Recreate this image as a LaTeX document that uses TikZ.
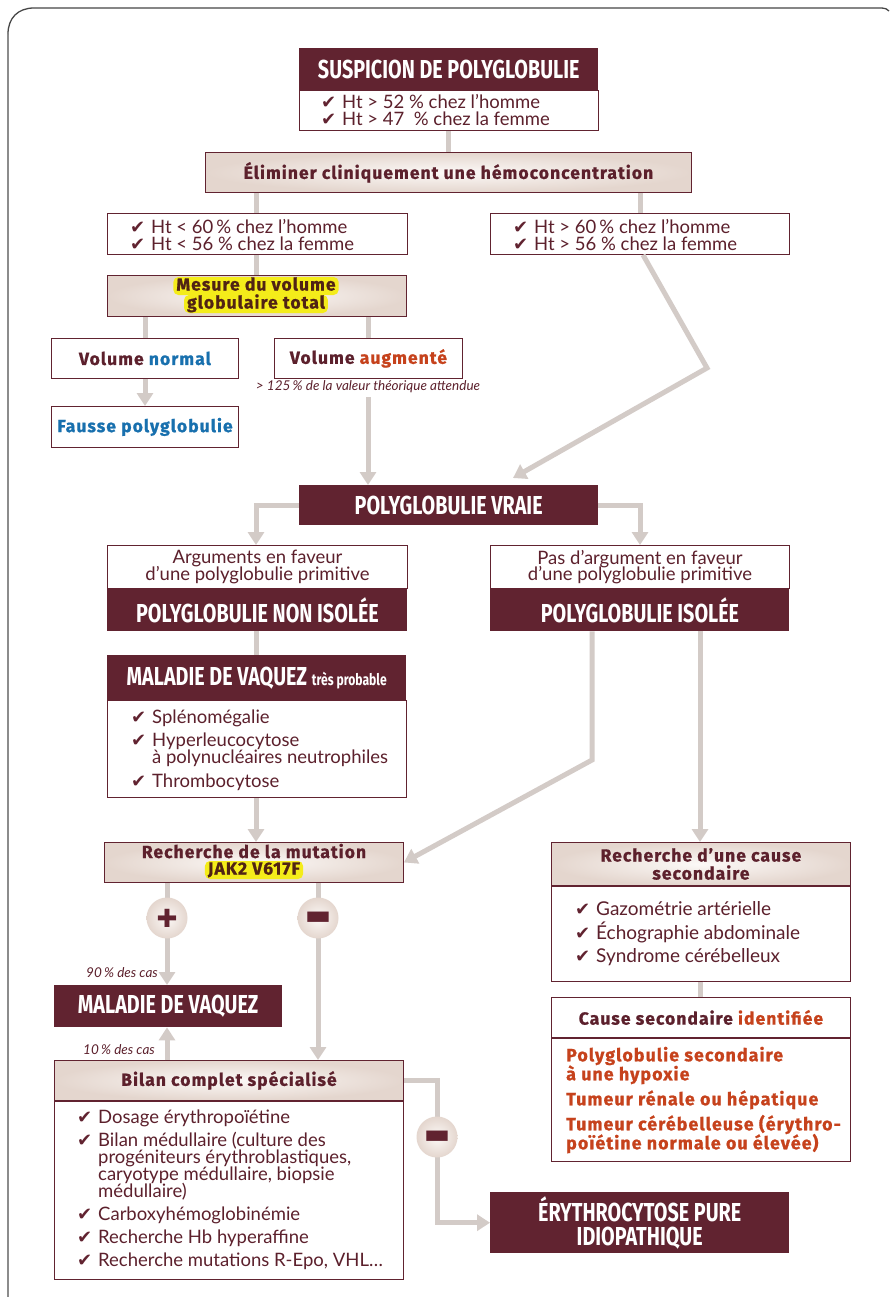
\documentclass[tikz,border=0pt]{standalone}
\usepackage{fontspec}
\setmainfont{Lato}
\newfontfamily\heavyf[LetterSpace=6,FakeBold=1]{Fira Sans}
\newfontfamily\condf[FakeStretch=0.76]{Fira Sans}
\newfontfamily\symf{DejaVu Sans}
\usetikzlibrary{arrows.meta,calc}
\definecolor{maroon}{RGB}{97,35,48}
\definecolor{txt}{RGB}{92,32,44}
\definecolor{hltxt}{RGB}{80,35,20}
\definecolor{conncol}{RGB}{211,203,199}
\definecolor{beige}{RGB}{228,214,206}
\definecolor{lightbg}{RGB}{252,249,247}
\definecolor{myblue}{RGB}{24,112,174}
\definecolor{myorange}{RGB}{198,66,28}
\definecolor{hl}{RGB}{244,236,26}
\definecolor{framec}{RGB}{70,70,70}
\definecolor{framel}{RGB}{140,140,140}
\lineskiplimit=-50pt
\newcommand\ck{\makebox[21pt][l]{\symf\fontsize{18}{15}\selectfont\color{maroon}✔}}
\newcommand\ind{\hspace*{21pt}}
\tikzset{
  darkbox/.style={fill=maroon, text=white, inner sep=0pt, align=center,
     font=\condf\bfseries\fontsize{26}{26}\selectfont},
  whitebox/.style={draw=maroon, line width=0.9pt, fill=white, inner sep=0pt, align=center, text=txt},
  shadebox/.style={draw=maroon, line width=0.9pt, inner color=lightbg, outer color=beige, inner sep=0pt, align=center, text=txt},
  heavy/.style={font=\heavyf\bfseries\fontsize{17.5}{18}\selectfont},
  body/.style={font=\fontsize{18.5}{16.5}\selectfont},
  listtxt/.style={align=left, anchor=west, inner sep=0pt, text=txt, font=\fontsize{18.5}{17}\selectfont},
  htlist/.style={listtxt, font=\fontsize{18.5}{17}\selectfont},
  ital/.style={inner sep=0pt, text=txt, font=\itshape\fontsize{13.5}{14}\selectfont},
  hlnode/.style={fill=hl, rounded corners=5pt, inner xsep=3pt, inner ysep=1pt, text height=12.5pt, text depth=3.5pt, text=hltxt, font=\heavyf\bfseries\fontsize{17.5}{18}\selectfont},
  conn/.style={draw=conncol, line width=5pt},
  arr/.style={conn, -{Triangle[length=13pt,width=16pt]}},
  circ/.style={circle, minimum size=41pt, inner sep=0pt, inner color=lightbg, outer color=beige, text=maroon},
}
\begin{document}
\begin{tikzpicture}[x=1pt,y=-1pt]
\useasboundingbox (0,0) rectangle (889,1297);
\fill[white] (0,0) rectangle (889,1297);
\draw[draw=framel, line width=1.3pt] (8,1297) -- (8,34);
\draw[draw=framec, line width=1.3pt] (8,34) .. controls (8,18) and (18,8) .. (34,8) -- (882,8) .. controls (885,8) and (887,9) .. (889,11);
% columns
\coordinate (cL) at (256,0);
\coordinate (cR) at (640,0);
\coordinate (cQ) at (643,0);
\coordinate (cN) at (145,0);
\coordinate (cU) at (368,0);
\coordinate (cP) at (167,0);
\coordinate (cM) at (318,0);
\coordinate (cS) at (592,0);
\coordinate (cT) at (700,0);
\coordinate (cE) at (437,0);
% nodes
\node[darkbox, anchor=north west, minimum width=299pt, minimum height=42pt] (susp) at (299,48) {SUSPICION DE POLYGLOBULIE};
\node[whitebox, anchor=north, minimum width=299pt, minimum height=40pt] (suspb) at (susp.south) {};
\node[htlist] (suspt) at (321,110) {\ck Ht > 52 \% chez l’homme\\\ck Ht > 47~~\% chez la femme};
\node[shadebox, heavy, anchor=north west, minimum width=486pt, minimum height=40pt] (elim) at (205,152) {Éliminer cliniquement une hémoconcentration};
\node[whitebox, anchor=north west, minimum width=300pt, minimum height=41pt] (lt) at (107,213) {};
\node[htlist] (ltt) at (130,235) {\ck Ht < 60\,\% chez l’homme\\\ck Ht < 56 \% chez la femme};
\node[whitebox, anchor=north west, minimum width=299pt, minimum height=41pt] (rt) at (490,213) {};
\node[htlist] (rtt) at (513,235) {\ck Ht > 60\,\% chez l’homme\\\ck Ht > 56 \% chez la femme};
\node[shadebox, anchor=north west, minimum width=299pt, minimum height=41pt] (mes) at (107,275) {};
\node[hlnode] (mes1) at (256,286) {Mesure du volume};
\node[hlnode] (mes2) at (256,304) {globulaire total};
\node[whitebox, heavy, anchor=north west, minimum width=187pt, minimum height=40pt] (vn) at (51,338) {Volume \textcolor{myblue}{normal}};
\node[whitebox, heavy, anchor=north west, minimum width=188pt, minimum height=40pt] (va) at (274,338) {Volume \textcolor{myorange}{augmenté}};
\node[ital] (note) at (368,387) {> 125\,\% de la valeur théorique attendue};
\node[whitebox, heavy, text=myblue, anchor=north west, minimum width=187pt, minimum height=41pt] (fp) at (51,406) {Fausse polyglobulie};
\node[darkbox, anchor=north west, minimum width=299pt, minimum height=40pt] (vraie) at (299,485) {POLYGLOBULIE VRAIE};
\node[whitebox, body, anchor=north west, minimum width=300pt, minimum height=43pt] (argl) at (107,545) {Arguments en faveur\\d’une polyglobulie primitive};
\node[darkbox, anchor=north, minimum width=300pt, minimum height=42pt] (nonis) at (argl.south) {POLYGLOBULIE NON ISOLÉE};
\node[whitebox, body, anchor=north west, minimum width=299pt, minimum height=43pt] (argr) at (490,545) {Pas d’argument en faveur\\d’une polyglobulie primitive};
\node[darkbox, anchor=north, minimum width=299pt, minimum height=42pt] (isol) at (argr.south) {POLYGLOBULIE ISOLÉE};
\node[darkbox, anchor=north west, minimum width=299pt, minimum height=45pt] (mal1) at (107,655) {MALADIE DE VAQUEZ {\fontsize{16}{16}\selectfont très probable}};
\node[whitebox, anchor=north, minimum width=299pt, minimum height=97pt] (mal1b) at (mal1.south) {};
\node[listtxt] (mal1t) at (131,750) {\ck Splénomégalie\\[6.5pt]\ck Hyperleucocytose\\\ind à polynucléaires neutrophiles\\[6.5pt]\ck Thrombocytose};
\node[shadebox, anchor=north west, minimum width=299pt, minimum height=40pt] (mut) at (104,842) {};
\node[inner sep=0pt, heavy, text=txt, text height=12.5pt, text depth=0.5pt] (mutt) at (254,852) {Recherche de la mutation};
\node[hlnode] (jak) at (254,870) {JAK2 V617F};
\node[darkbox, anchor=north west, minimum width=228pt, minimum height=42pt] (mv) at (54,985) {MALADIE DE VAQUEZ};
\node[ital, anchor=east] (p90) at (158,973) {90\,\% des cas};
\node[ital, anchor=east] (p10) at (155,1050) {10\,\% des cas};
\node[shadebox, heavy, anchor=north west, minimum width=349pt, minimum height=40pt] (bil) at (54,1060) {Bilan complet spécialisé};
\node[whitebox, anchor=north, minimum width=349pt, minimum height=178pt] (bilb) at (bil.south) {};
\node[listtxt] (bilt) at (77,1190) {\ck Dosage érythropoïétine\\[6pt]\ck Bilan médullaire (culture des\\\ind progéniteurs érythroblastiques,\\\ind caryotype médullaire, biopsie\\\ind médullaire)\\[6pt]\ck Carboxyhémoglobinémie\\[6pt]\ck Recherche Hb hyperaffine\\[6pt]\ck Recherche mutations R-Epo, VHL…};
\node[shadebox, heavy, anchor=north west, minimum width=299pt, minimum height=43pt] (rc) at (551,842) {Recherche d’une cause\\secondaire};
\node[whitebox, anchor=north, minimum width=299pt, minimum height=95pt] (rcb) at (rc.south) {};
\node[listtxt, font=\fontsize{19}{23.5}\selectfont] (rct) at (575,934) {\ck Gazométrie artérielle\\\ck Échographie abdominale\\\ck Syndrome cérébelleux};
\node[whitebox, heavy, anchor=north west, minimum width=299pt, minimum height=40pt] (ci) at (551,997) {Cause secondaire \textcolor{myorange}{identifiée}};
\node[whitebox, anchor=north, minimum width=299pt, minimum height=123pt] (cib) at (ci.south) {};
\node[listtxt, text=myorange, font=\heavyf\bfseries\fontsize{17.8}{19}\selectfont] (cit) at (566,1100) {Polyglobulie secondaire\\à une hypoxie\\[6pt]Tumeur rénale ou hépatique\\[6pt]Tumeur cérébelleuse (érythro-\\poïétine normale ou élevée)};
\node[darkbox, anchor=north west, minimum width=299pt, minimum height=61pt, font=\condf\bfseries\fontsize{26}{24}\selectfont] (ery) at (490,1192) {ÉRYTHROCYTOSE PURE\\IDIOPATHIQUE};
% connectors
\draw[conn] (suspb.south) -- (suspb.south |- elim.north);
\draw[conn] (elim.south -| cL) -- (lt.north -| cL);
\draw[conn] (elim.south -| cR) -- (rt.north -| cR);
\draw[conn] (lt.south -| cL) -- (mes.north -| cL);
\draw[conn] (mes.south -| cN) -- (vn.north -| cN);
\draw[conn] (mes.south -| cU) -- (va.north -| cU);
\draw[arr] (vn.south -| cN) -- (fp.north -| cN);
\coordinate (vaS) at (368,397);
\draw[arr] (vaS) -- (vraie.north -| cU);
\coordinate (bend1) at (707,368);
\coordinate (tip1) at (513,478);
\draw[arr] (rt.south -| cQ) -- (bend1) -- (tip1);
\draw[arr] (vraie.west) -| (argl.north -| cL);
\draw[arr] (vraie.east) -| (argr.north -| cR);
\draw[conn] (nonis.south -| cL) -- (mal1.north -| cL);
\draw[arr] (mal1b.south -| cL) -- (mut.north -| cL);
\coordinate (bend2) at (592,760);
\draw[arr] (isol.south -| cS) -- (bend2) -- (mut.east);
\draw[arr] (isol.south -| cT) -- (rc.north -| cT);
\draw[conn] (rcb.south -| cT) -- (ci.north -| cT);
\draw[arr] (mut.south -| cP) -- (mv.north -| cP);
\draw[arr] (mut.south -| cM) -- (bil.north -| cM);
\draw[arr] (bil.north -| cP) -- (mv.south -| cP);
\draw[arr] (bil.east) -| (ery.west -| cE) -- (ery.west);
% circles
\node[circ, font=\symf\fontsize{25}{25}\selectfont] (plus) at (167,918) {✚};
\node[circ, font=\symf\fontsize{28}{28}\selectfont] (min1) at (318,918) {▬};
\node[circ, font=\symf\fontsize{28}{28}\selectfont] (min2) at (437,1137) {▬};
\end{tikzpicture}
\end{document}
